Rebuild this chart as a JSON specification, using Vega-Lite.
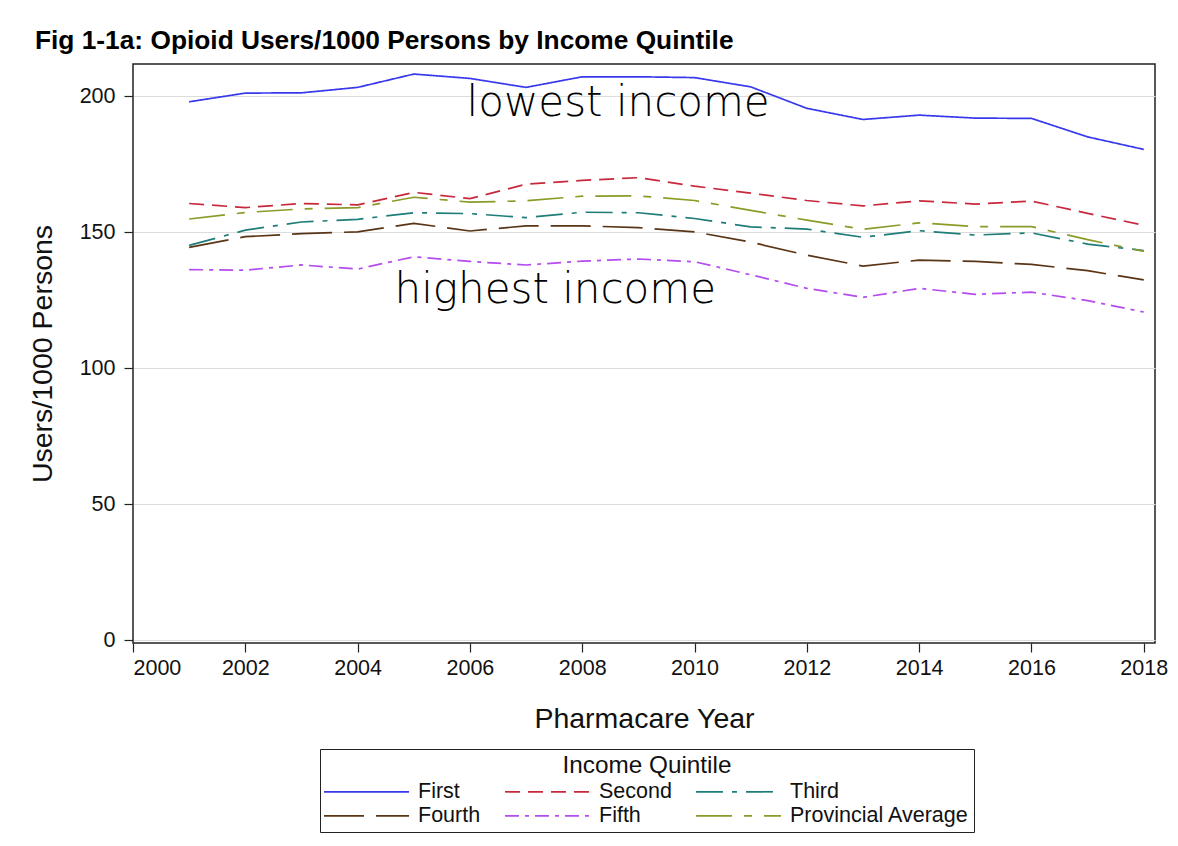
{
  "$schema": "https://vega.github.io/schema/vega-lite/v6.json",
  "width": 1022,
  "height": 579,
  "autosize": {"type": "none"},
  "padding": {"left": 133, "top": 64, "right": 23, "bottom": 203},
  "background": "white",
  "title": {
    "text": "Fig 1-1a: Opioid Users/1000 Persons by Income Quintile",
    "anchor": "start",
    "frame": "group",
    "dx": -98,
    "dy": 21,
    "offset": 10,
    "baseline": "alphabetic",
    "font": "Liberation Sans",
    "fontSize": 26.3,
    "fontWeight": "bold",
    "color": "#000000"
  },
  "datasets": {
    "series": [
      {"year": 2001, "group": "First", "value": 197.9},
      {"year": 2002, "group": "First", "value": 201.1},
      {"year": 2003, "group": "First", "value": 201.2},
      {"year": 2004, "group": "First", "value": 203.2},
      {"year": 2005, "group": "First", "value": 208.1},
      {"year": 2006, "group": "First", "value": 206.5},
      {"year": 2007, "group": "First", "value": 203.2},
      {"year": 2008, "group": "First", "value": 207.1},
      {"year": 2009, "group": "First", "value": 207.1},
      {"year": 2010, "group": "First", "value": 206.8},
      {"year": 2011, "group": "First", "value": 203.4},
      {"year": 2012, "group": "First", "value": 195.5},
      {"year": 2013, "group": "First", "value": 191.4},
      {"year": 2014, "group": "First", "value": 193.0},
      {"year": 2015, "group": "First", "value": 191.9},
      {"year": 2016, "group": "First", "value": 191.8},
      {"year": 2017, "group": "First", "value": 185.0},
      {"year": 2018, "group": "First", "value": 180.4},
      {"year": 2001, "group": "Second", "value": 160.5},
      {"year": 2002, "group": "Second", "value": 159.0},
      {"year": 2003, "group": "Second", "value": 160.5},
      {"year": 2004, "group": "Second", "value": 160.0},
      {"year": 2005, "group": "Second", "value": 164.6},
      {"year": 2006, "group": "Second", "value": 162.3},
      {"year": 2007, "group": "Second", "value": 167.6},
      {"year": 2008, "group": "Second", "value": 169.0},
      {"year": 2009, "group": "Second", "value": 170.0},
      {"year": 2010, "group": "Second", "value": 166.9},
      {"year": 2011, "group": "Second", "value": 164.3},
      {"year": 2012, "group": "Second", "value": 161.6},
      {"year": 2013, "group": "Second", "value": 159.6},
      {"year": 2014, "group": "Second", "value": 161.5},
      {"year": 2015, "group": "Second", "value": 160.3},
      {"year": 2016, "group": "Second", "value": 161.4},
      {"year": 2017, "group": "Second", "value": 156.9},
      {"year": 2018, "group": "Second", "value": 152.5},
      {"year": 2001, "group": "Third", "value": 145.1},
      {"year": 2002, "group": "Third", "value": 150.7},
      {"year": 2003, "group": "Third", "value": 153.7},
      {"year": 2004, "group": "Third", "value": 154.7},
      {"year": 2005, "group": "Third", "value": 157.1},
      {"year": 2006, "group": "Third", "value": 156.8},
      {"year": 2007, "group": "Third", "value": 155.3},
      {"year": 2008, "group": "Third", "value": 157.3},
      {"year": 2009, "group": "Third", "value": 157.1},
      {"year": 2010, "group": "Third", "value": 155.0},
      {"year": 2011, "group": "Third", "value": 151.9},
      {"year": 2012, "group": "Third", "value": 151.1},
      {"year": 2013, "group": "Third", "value": 148.1},
      {"year": 2014, "group": "Third", "value": 150.5},
      {"year": 2015, "group": "Third", "value": 148.9},
      {"year": 2016, "group": "Third", "value": 149.7},
      {"year": 2017, "group": "Third", "value": 145.6},
      {"year": 2018, "group": "Third", "value": 143.2},
      {"year": 2001, "group": "Fourth", "value": 144.4},
      {"year": 2002, "group": "Fourth", "value": 148.3},
      {"year": 2003, "group": "Fourth", "value": 149.4},
      {"year": 2004, "group": "Fourth", "value": 150.1},
      {"year": 2005, "group": "Fourth", "value": 153.2},
      {"year": 2006, "group": "Fourth", "value": 150.4},
      {"year": 2007, "group": "Fourth", "value": 152.3},
      {"year": 2008, "group": "Fourth", "value": 152.3},
      {"year": 2009, "group": "Fourth", "value": 151.6},
      {"year": 2010, "group": "Fourth", "value": 150.1},
      {"year": 2011, "group": "Fourth", "value": 146.3},
      {"year": 2012, "group": "Fourth", "value": 141.5},
      {"year": 2013, "group": "Fourth", "value": 137.5},
      {"year": 2014, "group": "Fourth", "value": 139.7},
      {"year": 2015, "group": "Fourth", "value": 139.2},
      {"year": 2016, "group": "Fourth", "value": 138.1},
      {"year": 2017, "group": "Fourth", "value": 135.8},
      {"year": 2018, "group": "Fourth", "value": 132.4},
      {"year": 2001, "group": "Fifth", "value": 136.2},
      {"year": 2002, "group": "Fifth", "value": 136.0},
      {"year": 2003, "group": "Fifth", "value": 137.9},
      {"year": 2004, "group": "Fifth", "value": 136.4},
      {"year": 2005, "group": "Fifth", "value": 140.9},
      {"year": 2006, "group": "Fifth", "value": 139.2},
      {"year": 2007, "group": "Fifth", "value": 137.9},
      {"year": 2008, "group": "Fifth", "value": 139.3},
      {"year": 2009, "group": "Fifth", "value": 140.1},
      {"year": 2010, "group": "Fifth", "value": 139.1},
      {"year": 2011, "group": "Fifth", "value": 134.3},
      {"year": 2012, "group": "Fifth", "value": 129.3},
      {"year": 2013, "group": "Fifth", "value": 126.0},
      {"year": 2014, "group": "Fifth", "value": 129.3},
      {"year": 2015, "group": "Fifth", "value": 127.1},
      {"year": 2016, "group": "Fifth", "value": 127.9},
      {"year": 2017, "group": "Fifth", "value": 124.8},
      {"year": 2018, "group": "Fifth", "value": 120.6},
      {"year": 2001, "group": "Provincial Average", "value": 154.8},
      {"year": 2002, "group": "Provincial Average", "value": 157.2},
      {"year": 2003, "group": "Provincial Average", "value": 158.5},
      {"year": 2004, "group": "Provincial Average", "value": 159.0},
      {"year": 2005, "group": "Provincial Average", "value": 162.8},
      {"year": 2006, "group": "Provincial Average", "value": 161.0},
      {"year": 2007, "group": "Provincial Average", "value": 161.5},
      {"year": 2008, "group": "Provincial Average", "value": 163.2},
      {"year": 2009, "group": "Provincial Average", "value": 163.3},
      {"year": 2010, "group": "Provincial Average", "value": 161.6},
      {"year": 2011, "group": "Provincial Average", "value": 158.0},
      {"year": 2012, "group": "Provincial Average", "value": 154.4},
      {"year": 2013, "group": "Provincial Average", "value": 151.0},
      {"year": 2014, "group": "Provincial Average", "value": 153.4},
      {"year": 2015, "group": "Provincial Average", "value": 152.0},
      {"year": 2016, "group": "Provincial Average", "value": 152.0},
      {"year": 2017, "group": "Provincial Average", "value": 147.2},
      {"year": 2018, "group": "Provincial Average", "value": 142.9}
    ],
    "notes": [
      {"label": "lowest income", "year": 2008.64, "value": 192.6},
      {"label": "highest income", "year": 2007.52, "value": 123.9}
    ]
  },
  "layer": [
    {
      "data": {"name": "series"},
      "mark": {"type": "line", "strokeWidth": 1.7, "clip": false},
      "encoding": {
        "x": {
          "field": "year",
          "type": "quantitative",
          "title": "Pharmacare Year",
          "scale": {"domain": [2000, 2018.2], "nice": false, "zero": false},
          "axis": {"values": [2000, 2002, 2004, 2006, 2008, 2010, 2012, 2014, 2016, 2018], "format": "d", "grid": false, "labelPadding": 5, "titlePadding": 26}
        },
        "y": {
          "field": "value",
          "type": "quantitative",
          "title": "Users/1000 Persons",
          "scale": {"domain": [-1.1, 211.8], "nice": false, "zero": false},
          "axis": {"values": [0, 50, 100, 150, 200], "grid": true, "titlePadding": 22, "labelPadding": 9}
        },
        "color": {
          "field": "group",
          "type": "nominal",
          "title": "Income Quintile",
          "scale": {
            "domain": ["First", "Second", "Third", "Fourth", "Fifth", "Provincial Average"],
            "range": ["#3838EC", "#C8283C", "#1E7D78", "#5A3515", "#B44CF0", "#8C9B28"]
          }
        },
        "strokeDash": {
          "field": "group",
          "type": "nominal",
          "title": "Income Quintile",
          "scale": {
            "domain": ["First", "Second", "Third", "Fourth", "Fifth", "Provincial Average"],
            "range": [[1, 0], [15, 8], [27, 9, 5, 9], [40, 12], [14, 6, 4, 6], [36, 12, 8, 12]]
          }
        }
      }
    },
    {
      "data": {"name": "notes"},
      "mark": {"type": "text", "font": "DejaVu Sans", "fontSize": 42, "fontWeight": 300, "align": "center", "baseline": "alphabetic", "color": "#000000"},
      "encoding": {
        "x": {"field": "year", "type": "quantitative"},
        "y": {"field": "value", "type": "quantitative"},
        "text": {"field": "label", "type": "nominal"}
      }
    }
  ],
  "config": {
    "font": "Liberation Sans",
    "view": {"stroke": "#222222", "strokeWidth": 1.5},
    "axis": {
      "labelFont": "Liberation Sans",
      "labelFontSize": 21.5,
      "labelColor": "#111111",
      "titleFont": "Liberation Sans",
      "titleFontSize": 28.5,
      "titleFontWeight": "normal",
      "titleColor": "#111111",
      "tickColor": "#222222",
      "tickSize": 9,
      "tickWidth": 1.2,
      "domain": false,
      "gridColor": "#dcdcdc",
      "gridWidth": 1.2
    },
    "legend": {
      "orient": "none",
      "legendX": 187,
      "legendY": 685,
      "direction": "horizontal",
      "columns": 3,
      "strokeColor": "#222222",
      "padding": 5,
      "titleAnchor": "middle",
      "titleFont": "Liberation Sans",
      "titleFontSize": 24.3,
      "titleFontWeight": "normal",
      "titleColor": "#111111",
      "titlePadding": 2,
      "labelFont": "Liberation Sans",
      "labelFontSize": 21.5,
      "labelColor": "#111111",
      "labelLimit": 400,
      "symbolType": "M-4.15,0H4.15",
      "symbolSize": 420,
      "symbolStrokeWidth": 1.7,
      "symbolOffset": 30,
      "labelOffset": 40,
      "columnPadding": 20,
      "rowPadding": 2
    }
  }
}
